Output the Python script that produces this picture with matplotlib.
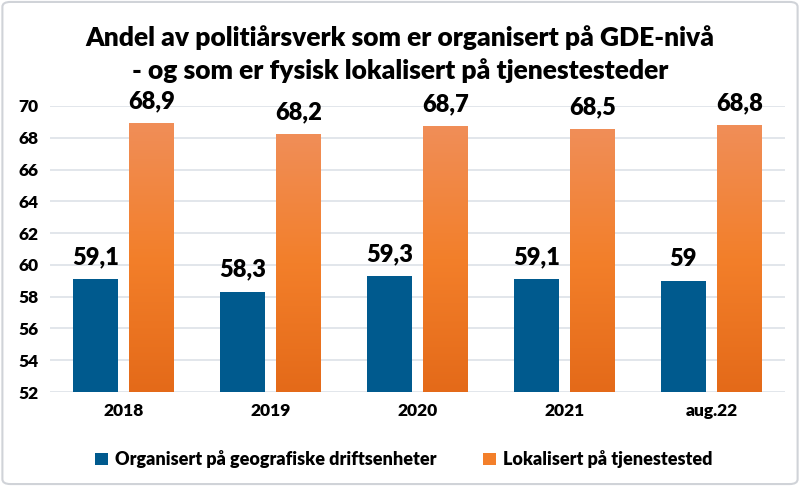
import matplotlib
matplotlib.use("Agg")
import matplotlib.pyplot as plt
import numpy as np
from matplotlib.colors import LinearSegmentedColormap
from matplotlib.patches import FancyBboxPatch, Patch

categories = ["2018", "2019", "2020", "2021", "aug.22"]
organisert = [59.1, 58.3, 59.3, 59.1, 59.0]
lokalisert = [68.9, 68.2, 68.7, 68.5, 68.8]
org_labels = ["59,1", "58,3", "59,3", "59,1", "59"]
lok_labels = ["68,9", "68,2", "68,7", "68,5", "68,8"]
series_names = ["Organisert på geografiske driftsenheter", "Lokalisert på tjenestested"]
title = "Andel av politiårsverk som er organisert på GDE-nivå\n- og som er fysisk lokalisert på tjenestesteder"

plt.rcParams['font.family'] = ['Lato', 'DejaVu Sans']

fig = plt.figure(figsize=(8.0, 4.86), dpi=100)
ax = fig.add_axes([0.0625, 0.1934, 0.9185, 0.5885])

blue = "#005A8E"
orange_cmap = LinearSegmentedColormap.from_list("og", ["#E46A19", "#F37F2A", "#F08E58"])

x = np.arange(len(categories))
w = 0.306
b1 = ax.bar(x - 0.19, np.array(organisert) - 52, w, bottom=52, color=blue, zorder=3)
b2 = ax.bar(x + 0.19, np.array(lokalisert) - 52, w, bottom=52, color="none", zorder=3)

grad = np.linspace(0, 1, 256).reshape(-1, 1)
for rect in b2:
    x0, y0 = rect.get_x(), rect.get_y()
    x1, y1 = x0 + rect.get_width(), y0 + rect.get_height()
    ax.imshow(grad, extent=[x0, x1, y0, y1], origin="lower", cmap=orange_cmap,
              aspect="auto", zorder=3)

for bars, labels in ((b1, org_labels), (b2, lok_labels)):
    for rect, lab in zip(bars, labels):
        ax.annotate(lab, (rect.get_x() + rect.get_width() / 2, rect.get_y() + rect.get_height()),
                    xytext=(0, 8), textcoords="offset points", ha="center", va="bottom",
                    fontsize=17, fontweight="heavy", color="black")

ax.set_xlim(-0.5, len(categories) - 0.5)
ax.set_ylim(52, 70)
ax.set_yticks(np.arange(52, 71, 2))
ax.set_xticks(x)
ax.set_xticklabels(categories, fontsize=12.5, fontweight="heavy")
for t in ax.get_yticklabels():
    t.set_fontsize(12.5)
    t.set_fontweight("heavy")
ax.tick_params(axis="both", length=0, pad=8)
ax.yaxis.grid(True, color="#DDE1E8", linewidth=1.2, zorder=0)
ax.set_axisbelow(True)
for s in ax.spines.values():
    s.set_visible(False)

fig.text(0.5, 0.948, title, ha="center", va="top", fontsize=19, fontweight="heavy",
         linespacing=1.4)

handles = [Patch(facecolor=blue), Patch(facecolor="#F37F2A")]
fig.legend(handles, series_names, loc="center", bbox_to_anchor=(0.505, 0.055), ncol=2,
           frameon=False, prop={"size": 13, "weight": "heavy"}, handlelength=0.7,
           handleheight=0.7, handletextpad=0.4, columnspacing=2.6)

border = FancyBboxPatch((0.003, 0.004), 0.994, 0.992, boxstyle="round,pad=0,rounding_size=0.01",
                        transform=fig.transFigure, fill=False, edgecolor="#D0D3D8", linewidth=1.5)
fig.patches.append(border)

fig.savefig("out.png", dpi=100)
